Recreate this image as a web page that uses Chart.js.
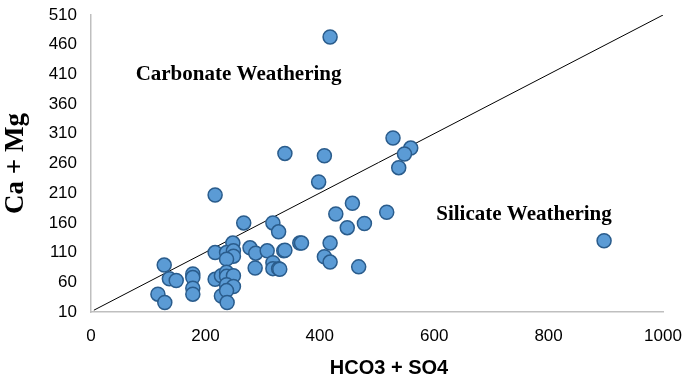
<!DOCTYPE html>
<html>
<head>
<meta charset="utf-8">
<script src="https://cdn.jsdelivr.net/npm/chart.js@4/dist/chart.umd.min.js"></script>
<style>
  html, body { margin: 0; padding: 0; background: #fff; }
  #wrap { width: 685px; height: 381px; }
</style>
</head>
<body>
<div id="wrap"><canvas id="myChart"></canvas></div>
<script>
// HCO3 + SO4 (x) vs Ca + Mg (y)
const hco3so4 = [418, 217, 267, 318, 328, 365, 248, 217, 237, 249, 249, 237, 278, 288, 308, 337,
  128, 137, 149, 178, 178, 178, 178, 117, 129, 217, 228, 237, 237, 249, 237, 249, 228, 237, 238,
  287, 318, 318, 328, 528, 559, 548, 538, 408, 339, 398, 457, 428, 517, 478, 448, 339, 368, 418,
  408, 418, 468, 330, 897];
const caMg = [473, 207, 160, 160, 145, 126, 126, 110, 110, 113, 104, 99, 118, 109, 113, 113,
  89, 66, 63, 74, 68, 50, 40, 40, 26, 65, 71, 77, 70, 71, 56, 53, 37, 46, 26,
  84, 93, 83, 83, 303, 286, 276, 253, 273, 277, 229, 193, 175, 178, 159, 152, 114, 126, 126,
  103, 94, 86, 82, 130];

// 1:1 dividing line
const lineX = [5, 1000];
const lineY = [13, 510];

const xTicks = [0, 200, 400, 600, 800, 1000];
const yTicks = [10, 60, 110, 160, 210, 260, 310, 360, 410, 460, 510];

const xTitle = "HCO3 + SO4";
const yTitle = "Ca + Mg";

// zone labels, placed in data units (baseline)
const zones = [
  { text: "Carbonate Weathering", x: 258, y: 401 },
  { text: "Silicate Weathering", x: 757, y: 165 }
];

const serif = "'Liberation Serif', 'Times New Roman', serif";
const sans = "'Liberation Sans', Arial, sans-serif";

const extraText = {
  id: "extraText",
  afterDatasetsDraw(chart) {
    const ctx = chart.ctx;
    const xs = chart.scales.x, ys = chart.scales.y;
    ctx.save();
    ctx.fillStyle = "#000";
    ctx.textAlign = "center";
    ctx.textBaseline = "alphabetic";
    ctx.font = "bold 21px " + serif;
    zones.forEach(z => {
      ctx.fillText(z.text, xs.getPixelForValue(z.x), ys.getPixelForValue(z.y));
    });

    // axis titles
    ctx.textBaseline = "middle";
    ctx.font = "bold 20px " + sans;
    ctx.fillText(xTitle, (xs.left + xs.right) / 2 + 12, chart.height - 13);

    ctx.translate(16, (ys.top + ys.bottom) / 2);
    ctx.rotate(-Math.PI / 2);
    ctx.font = "bold 27px " + serif;
    ctx.fillText(yTitle, 0, 0);
    ctx.restore();
  }
};

const points = hco3so4.map((x, i) => ({ x: x, y: caMg[i] }));
const line = lineX.map((x, i) => ({ x: x, y: lineY[i] }));

new Chart(document.getElementById("myChart"), {
  type: "scatter",
  data: {
    datasets: [
      {
        type: "line",
        data: line,
        borderColor: "#000",
        borderWidth: 1,
        pointRadius: 0,
        fill: false,
        order: 2
      },
      {
        data: points,
        backgroundColor: "#5b9bd5",
        borderColor: "#2a5c8c",
        borderWidth: 1.5,
        pointRadius: 7,
        order: 1
      }
    ]
  },
  options: {
    responsive: true,
    maintainAspectRatio: false,
    animation: false,
    layout: { padding: { top: 15, right: 22, left: 0, bottom: 0 } },
    plugins: {
      legend: { display: false },
      tooltip: { enabled: false }
    },
    scales: {
      x: {
        type: "linear",
        min: 0,
        max: 1000,
        afterFit: s => { s.height = 69; s.paddingRight = 0; s.paddingLeft = 0; },
        afterBuildTicks: s => { s.ticks = xTicks.map(v => ({ value: v })); },
        grid: { display: false, drawTicks: false },
        border: { color: "#bfbfbf", width: 1.5 },
        ticks: {
          color: "#000",
          padding: 14,
          font: { family: sans, size: 17 },
          callback: v => String(v)
        }
      },
      y: {
        type: "linear",
        min: 10,
        max: 510,
        afterFit: s => { s.width = 91; s.paddingTop = 0; s.paddingBottom = 0; },
        afterBuildTicks: s => { s.ticks = yTicks.map(v => ({ value: v })); },
        grid: { display: false, drawTicks: false },
        border: { color: "#bfbfbf", width: 1.5 },
        ticks: {
          color: "#000",
          padding: 14,
          font: { family: sans, size: 17 },
          callback: v => String(v)
        }
      }
    }
  },
  plugins: [extraText]
});
</script>
</body>
</html>
